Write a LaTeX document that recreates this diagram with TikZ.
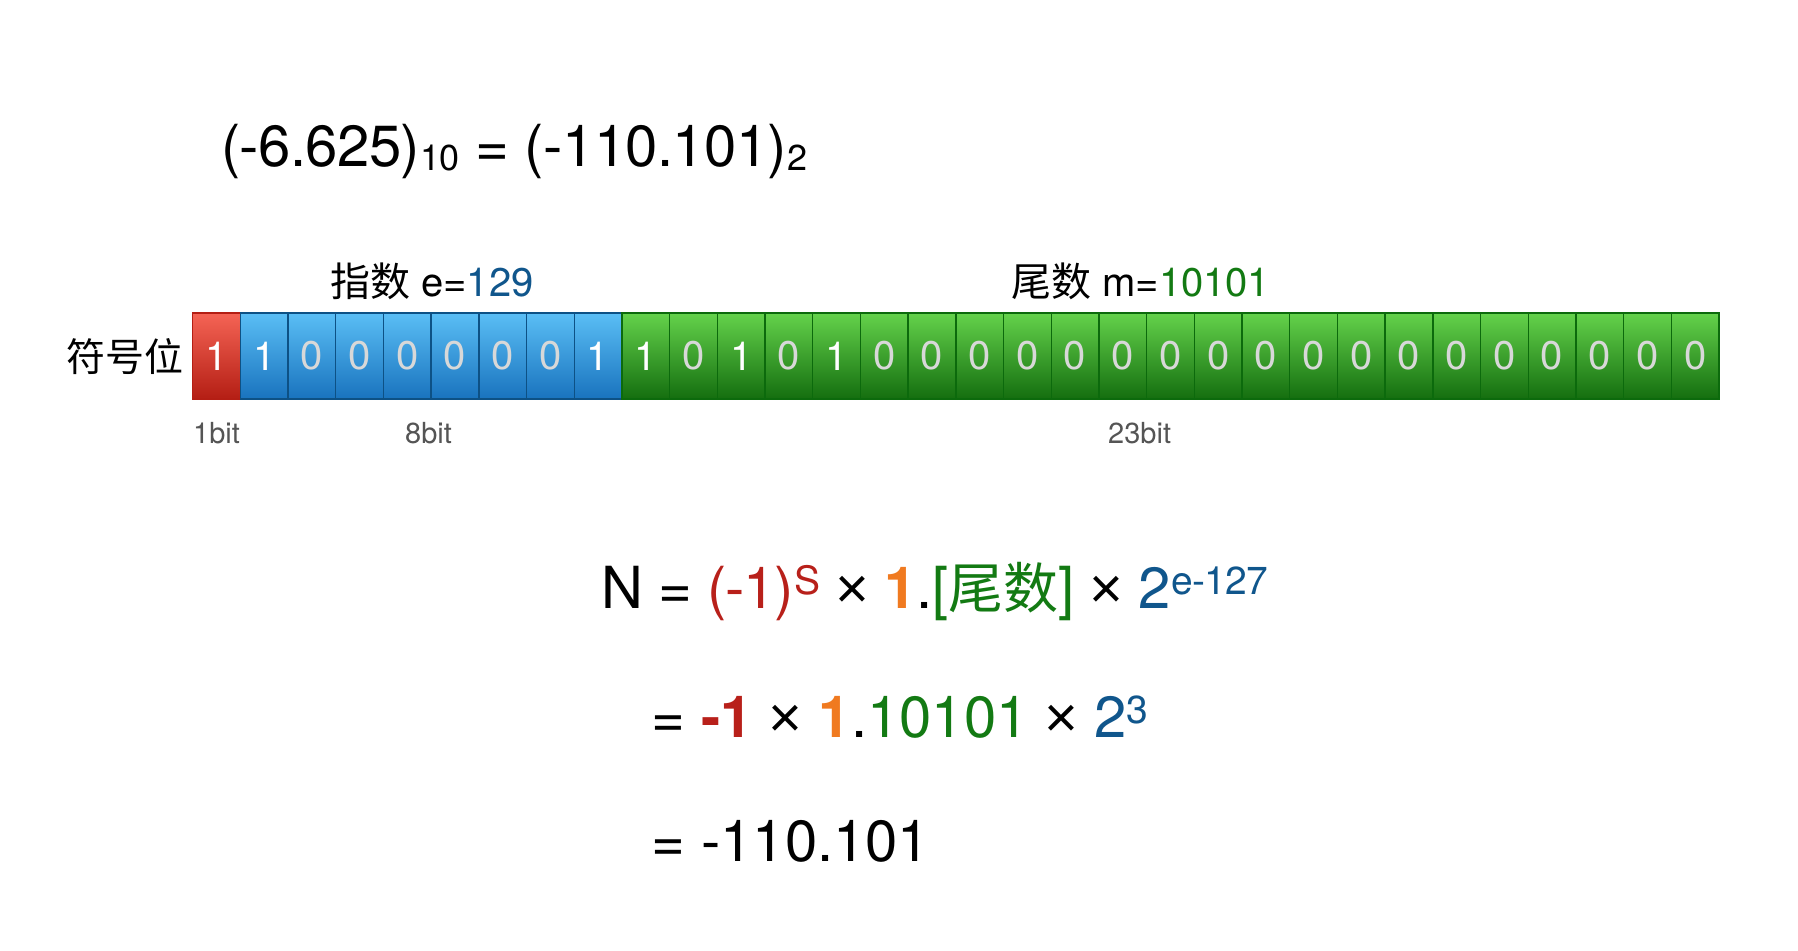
\documentclass[tikz,border=0pt]{standalone}
\usepackage{fontspec}
\setmainfont{TeX Gyre Heros}
\newfontfamily\cjk{Noto Sans CJK SC}
\newfontfamily\arialfont{Liberation Sans}
\definecolor{sred}{HTML}{B8201A}
\definecolor{oran}{HTML}{F07A20}
\definecolor{mgreen}{HTML}{137A13}
\definecolor{eblue}{HTML}{10568C}
\definecolor{zerogray}{HTML}{D8D8D8}
\definecolor{labgray}{HTML}{555555}
\definecolor{redtop}{HTML}{F56455}
\definecolor{redbot}{HTML}{B41E14}
\definecolor{bluetop}{HTML}{5ABEF5}
\definecolor{bluebot}{HTML}{1973BE}
\definecolor{blueedge}{HTML}{0D5185}
\definecolor{greentop}{HTML}{64D24B}
\definecolor{greenbot}{HTML}{146E0F}
\definecolor{greenedge}{HTML}{0C6A0C}
\newcommand\mysup[1]{\raisebox{14pt}{\fontsize{39}{40}\selectfont #1}}
\newcommand\mysub[1]{\raisebox{-4pt}{\fontsize{36}{40}\selectfont #1}}
\newcommand\tms{{\arialfont ×}}
\newcommand\bigfont{\fontsize{58}{64}\selectfont}
\tikzset{
  bitcell/.style={minimum width=47.7pt, minimum height=86pt, inner sep=0pt, outer sep=0pt,
    line width=1.4pt, font=\fontsize{40}{44}\selectfont},
  sgncell/.style={bitcell, draw=redbot, top color=redtop, bottom color=redbot},
  expcell/.style={bitcell, draw=blueedge, top color=bluetop, bottom color=bluebot},
  mancell/.style={bitcell, draw=greenedge, top color=greentop, bottom color=greenbot},
  biglabel/.style={anchor=base west, inner sep=0pt, font=\bigfont},
  midlabel/.style={anchor=base west, inner sep=0pt, font=\fontsize{40}{44}\selectfont},
  sizelabel/.style={anchor=base west, inner sep=0pt, text=labgray, font=\fontsize{29}{32}\selectfont}
}
\newcommand\bitval[1]{\ifnum#1=1 \textcolor{white}{1}\else\textcolor{zerogray}{0}\fi}
\begin{document}
\begin{tikzpicture}[x=1pt,y=-1pt]
\useasboundingbox[fill=white] (0,0) rectangle (1798,950);

% title
\node[biglabel] (title) at (221,166) {\addfontfeatures{LetterSpace=-1}(-6.625)\mysub{10} = (-110.101)\mysub{2}};

% bit cells
\node[sgncell] (c1) at (216.45,356) {\bitval{1}};
\foreach \b [count=\i from 2] in {1,0,0,0,0,0,0,1} {
  \pgfmathsetmacro\cx{192.6+47.7*(\i-0.5)}
  \node[expcell] (c\i) at (\cx,356) {\bitval{\b}};
}
\foreach \b [count=\i from 10] in {1,0,1,0,1,0,0,0,0,0,0,0,0,0,0,0,0,0,0,0,0,0,0} {
  \pgfmathsetmacro\cx{192.6+47.7*(\i-0.5)}
  \node[mancell] (c\i) at (\cx,356) {\bitval{\b}};
}

% labels
\node[midlabel, anchor=base east, font=\fontsize{39}{44}\selectfont] (sign) at (184,371) {\cjk 符号位};
\node[midlabel] (explab) at (330,296) {{\cjk 指数} e=\textcolor{eblue}{129}};
\node[midlabel] (manlab) at (1011,296) {{\cjk 尾数} m=\textcolor{mgreen}{10101}};
\node[sizelabel] (s1) at (193,443) {1bit};
\node[sizelabel] (s8) at (405,443) {8bit};
\node[sizelabel] (s23) at (1108,443) {23bit};

% formula
\node[biglabel] (f1) at (601,608) {\addfontfeatures{LetterSpace=-1.8}N = \textcolor{sred}{(-1)\mysup{S}} \tms\ \textbf{\textcolor{oran}{1}}.\textcolor{mgreen}{[{\cjk\fontsize{55}{60}\selectfont 尾数}]} \tms\ \textcolor{eblue}{2\mysup{e-127}}};
\node[biglabel] (f2) at (651,737) {= \textbf{\textcolor{sred}{-1}} \tms\ \textbf{\textcolor{oran}{1}}.\textcolor{mgreen}{10101} \tms\ \textcolor{eblue}{2\mysup{3}}};
\node[biglabel] (f3) at (651,861) {= -110.101};
\end{tikzpicture}
\end{document}
